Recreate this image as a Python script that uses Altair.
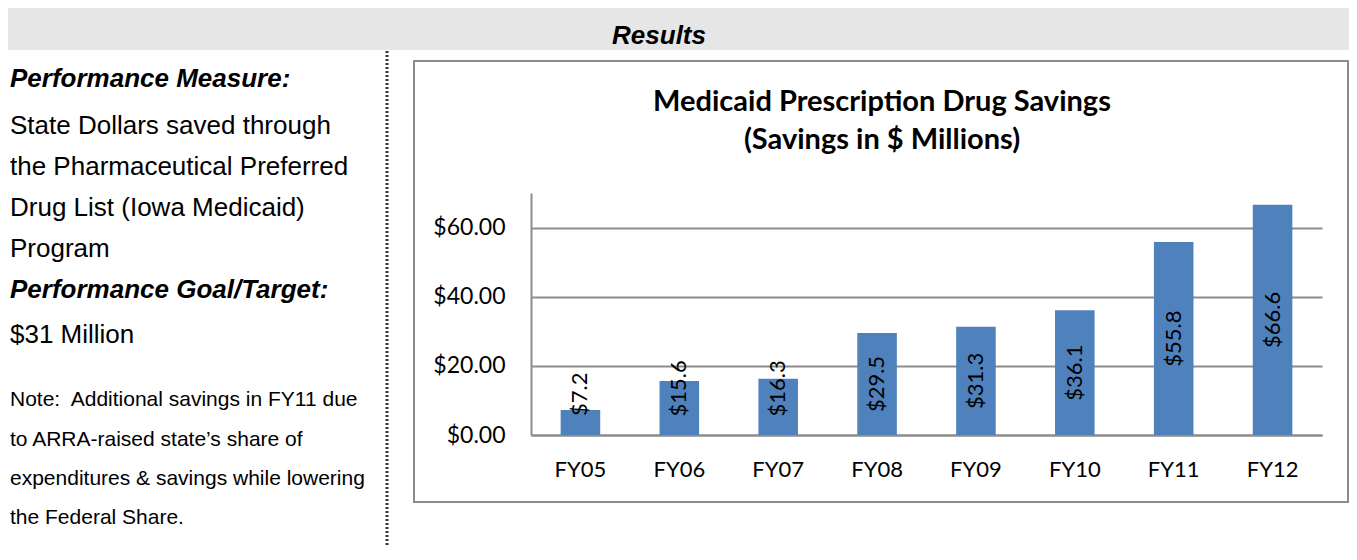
import altair as alt
import pandas as pd

# ---------------- data ----------------
years = ["FY05", "FY06", "FY07", "FY08", "FY09", "FY10", "FY11", "FY12"]
savings = [7.2, 15.6, 16.3, 29.5, 31.3, 36.1, 55.8, 66.6]
y_ticks = [0, 20, 40, 60]

header_text = "Results"
title_lines = ["Medicaid Prescription Drug Savings", "(Savings in $ Millions)"]
measure_heading = "Performance Measure:"
measure_lines = [
    "State Dollars saved through",
    "the Pharmaceutical Preferred",
    "Drug List (Iowa Medicaid)",
    "Program",
]
goal_heading = "Performance Goal/Target:"
goal_lines = ["$31 Million"]
note_lines = [
    "Note:\u00a0 Additional savings in FY11 due",
    "to ARRA-raised state\u2019s share of",
    "expenditures & savings while lowering",
    "the Federal Share.",
]

df = pd.DataFrame({"year": years, "value": savings})
one = pd.DataFrame({"k": [0]})

# ---------------- layout (pixels, relative to plot origin) ----------------
PLOT_W, PLOT_H = 791, 242
PAD = {"left": 523, "top": 185, "right": 27, "bottom": 111}
LEFT_X = -521
SANS = "Liberation Sans"
CAL = "Lato"


def txt(text, x, y, size, bold=False, italic=False, font=SANS, align="left"):
    return alt.Chart(one).mark_text(
        text=text, font=font, fontSize=size,
        fontWeight="bold" if bold else "normal",
        fontStyle="italic" if italic else "normal",
        align=align, baseline="alphabetic", color="#000000",
    ).encode(x=alt.value(x), y=alt.value(y))


layers = []

# header band
layers.append(alt.Chart(one).mark_rect(color="#e6e6e6").encode(
    x=alt.value(-524), x2=alt.value(818), y=alt.value(-185), y2=alt.value(-143)))
layers.append(txt(header_text, 128, -149, 26, bold=True, italic=True, align="center"))

# dotted separator
layers.append(alt.Chart(one).mark_rule(color="#333333", strokeWidth=3, strokeDash=[2, 2]).encode(
    x=alt.value(-144), y=alt.value(-142), y2=alt.value(367)))

# left panel text
layers.append(txt(measure_heading, LEFT_X, -106, 26, bold=True, italic=True))
for t, yb in zip(measure_lines, [-59, -18, 23, 64]):
    layers.append(txt(t, LEFT_X, yb, 26))
layers.append(txt(goal_heading, LEFT_X, 105, 26, bold=True, italic=True))
for t, yb in zip(goal_lines, [150]):
    layers.append(txt(t, LEFT_X, yb, 26))
for t, yb in zip(note_lines, [213, 253, 292, 331]):
    layers.append(txt(t, LEFT_X, yb, 21))

# chart border
layers.append(alt.Chart(one).mark_rect(fillOpacity=0, stroke="#8c8c8c", strokeWidth=2).encode(
    x=alt.value(-117), x2=alt.value(817), y=alt.value(-132), y2=alt.value(309)))

# chart title
for t, yb in zip(title_lines, [-82, -44]):
    layers.append(txt(t, 351, yb, 29, bold=True, font=CAL, align="center"))

# bars
x_enc = alt.X("year:N", sort=years, title=None,
              scale=alt.Scale(paddingInner=0.6, paddingOuter=0.3),
              axis=alt.Axis(labelAngle=0, labelFont=CAL, labelFontSize=22, labelColor="#000000",
                            labelPadding=24, tickSize=0, domainColor="#8c8c8c", domainWidth=2,
                            grid=False))
y_enc = alt.Y("value:Q", title=None,
              scale=alt.Scale(domain=[0, 70], nice=False),
              axis=alt.Axis(values=y_ticks, format="$.2f", labelFont=CAL, labelFontSize=23,
                            labelColor="#000000", labelPadding=26, tickSize=0,
                            domainColor="#8c8c8c", domainWidth=2,
                            grid=True, gridColor="#8c8c8c", gridWidth=2))

bars = alt.Chart(df).mark_bar(color="#4f81bd").encode(x=x_enc, y=y_enc)

labels = alt.Chart(df).transform_calculate(
    label="'$' + format(datum.value, '.1f')"
).transform_calculate(
    pos="max(datum.value / 2, 5 + length(datum.label) * 1.7)"
).mark_text(angle=270, align="center", baseline="middle", font=CAL, fontSize=22,
            color="#000000").encode(
    x=alt.X("year:N", sort=years),
    y=alt.Y("pos:Q"),
    text="label:N",
)

chart = alt.layer(*layers, bars, labels).properties(
    width=PLOT_W, height=PLOT_H,
    autosize=alt.AutoSizeParams(type="none"),
    padding=PAD,
    background="#ffffff",
).configure_view(strokeWidth=0)

chart.save("out.html", embed_options={"renderer": "svg", "actions": False})
